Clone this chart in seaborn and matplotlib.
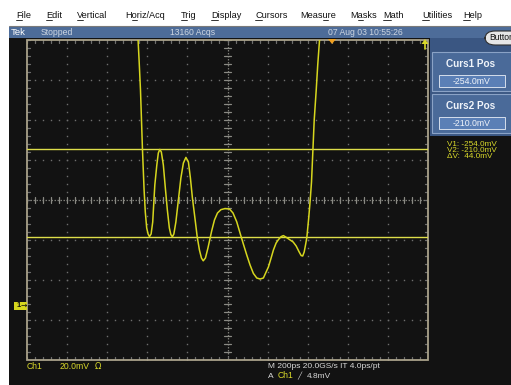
import numpy as np
import pandas as pd
import matplotlib
matplotlib.use("Agg")
import matplotlib.pyplot as plt
from matplotlib.patches import Rectangle, FancyBboxPatch, Polygon
from matplotlib.lines import Line2D
import seaborn as sns

sns.set_theme(style="white")
plt.rcParams['font.family'] = ['Liberation Sans', 'DejaVu Sans']

# ---------------- data ----------------
# Ch1 waveform: time (ps, relative to screen centre) and amplitude (mV)
time_ps = [-450, -446, -441, -434, -429, -424, -416, -410, -403, -396,
           -389, -381, -373, -362.5, -352.5, -345, -337.5, -330, -320, -310,
           -300, -290, -282.5, -275, -267.5, -257.5, -245, -232.5, -220, -207.5,
           -195, -185, -175, -162.5, -151, -140, -130, -121, -110, -97.5,
           -79, -65, -50, -32.5, -12.5, 10, 27.5, 46, 62.5, 79,
           96, 112.5, 129, 146, 162.5, 179, 192.5, 204, 217.5, 229,
           242.5, 254, 267.5, 279, 295, 312.5, 327.5, 342.5, 357.5, 367.5,
           375, 382.5, 390, 396, 405, 412.5, 419, 426, 432.5, 442.5,
           450, 459, 464]
volts_mv = [-145.5, -155.5, -165.5, -180.5, -195.5, -210.5, -230.5, -241.5, -249.5, -252.5,
            -253.8, -252.5, -246.5, -228.0, -218.0, -212.0, -210.2, -211.5, -218.0, -229.5,
            -240.5, -249.5, -252.8, -253.9, -252.5, -246.5, -235.5, -224.5, -217.0, -214.2,
            -216.5, -224.5, -234.5, -244.5, -254.0, -260.5, -264.5, -265.9, -264.5, -259.5,
            -251.0, -245.5, -242.0, -240.3, -239.8, -240.0, -242.0, -246.4, -252.0, -257.5,
            -263.0, -268.0, -272.2, -274.5, -275.0, -274.5, -271.5, -269.0, -264.5, -260.5,
            -257.0, -255.3, -253.8, -253.3, -254.3, -255.5, -256.5, -258.5, -261.5, -263.3,
            -263.5, -261.5, -257.5, -254.0, -244.5, -235.5, -226.5, -210.5, -195.5, -180.5,
            -168.0, -155.5, -145.5]

# cursor readouts (mV)
curs1_mv = -254.0
curs2_mv = -210.0
delta_mv = curs2_mv - curs1_mv

# acquisition settings
time_per_div_ps = 200
volts_per_div_mv = 20
screen_centre_mv = -235.5
sample_rate = "20.0GS/s"
trigger_level_mv = 4.8
acq_count = 13160

menu_items = ["File", "Edit", "Vertical", "Horiz/Acq", "Trig", "Display",
              "Cursors", "Measure", "Masks", "Math", "Utilities", "Help"]
menu_hotkey = [0, 0, 0, 1, 0, 0, 0, 4, 1, 0, 0, 0]

# ---------------- layout helpers ----------------
W, H = 511, 385
fig = plt.figure(figsize=(W / 100, H / 100), dpi=100)
fig.patch.set_facecolor("white")


def fx(x):
    return x / W


def fy(y):
    return 1 - y / H


def box(x0, y0, x1, y1, fc, ec="none", lw=0.0, z=0):
    r = Rectangle((fx(x0), fy(y1)), (x1 - x0) / W, (y1 - y0) / H,
                  transform=fig.transFigure, facecolor=fc, edgecolor=ec,
                  linewidth=lw, zorder=z)
    fig.add_artist(r)
    return r


def ftext(x, y, s, **kw):
    kw.setdefault("va", "center")
    kw.setdefault("ha", "left")
    return fig.text(fx(x), fy(y), s, **kw)


# window background pieces
box(9, 38, W, H, "#121212")                 # scope display
box(9, 27, W, 38, "#4d6c99")                 # status bar
box(430, 38, W, 136, "#3a5682")              # side panel
fig.add_artist(Line2D([fx(9), fx(W)], [fy(26), fy(26)], transform=fig.transFigure,
                      color="#7a7a7a", lw=0.8))

# menu bar
menu_x = [16, 46, 77, 125, 181, 211, 255, 300, 350, 383, 422, 463]
menu_texts = []
for name, x in zip(menu_items, menu_x):
    menu_texts.append(ftext(x, 16, name, fontsize=6.6, color="#101010"))

# status bar
ftext(11, 32.5, "Tek", fontsize=6.8, color="white")
ftext(41, 32.5, "Stopped", fontsize=6.2, color="#cdd6e2")
ftext(170, 32.5, f"{acq_count} Acqs", fontsize=6.2, color="#cdd6e2")
ftext(328, 32.5, "07 Aug 03 10:55:26", fontsize=6.2, color="#cdd6e2")

# button at top right
fig.add_artist(FancyBboxPatch((fx(485), fy(45)), 40 / W, 14 / H,
                              boxstyle="round,pad=0,rounding_size=0.02",
                              transform=fig.transFigure, facecolor="#e6e6e6",
                              edgecolor="#303030", lw=0.8, zorder=2))
ftext(489, 38, "Button", fontsize=6.2, color="#101010", zorder=3)

# cursor readout panel
for top, title, val in [(52, "Curs1 Pos", curs1_mv), (94, "Curs2 Pos", curs2_mv)]:
    box(432, top, W + 2, top + 39, "#4a6a99", ec="#8aa2c6", lw=0.8, z=1)
    box(439, top + 23, 505, top + 35, "#5a7fb6", ec="#d5deec", lw=0.7, z=2)
    ftext(471, top + 12, title, fontsize=7.2, fontweight="bold", color="#f0f4fa",
          ha="center", zorder=3)
    ftext(472, top + 29, f"{val:.1f}mV", fontsize=6.3, color="#f0f4fa",
          ha="center", zorder=3)

yel = "#d9d92a"
ftext(447, 144, f"V1: {curs1_mv:.1f}mV", fontsize=5.9, color=yel)
ftext(447, 150.5, f"V2: {curs2_mv:.1f}mV", fontsize=5.9, color=yel)
ftext(447, 157, f"ΔV:  {delta_mv:.1f}mV", fontsize=5.9, color=yel)

# bottom readouts
ftext(27, 366.5, "Ch1", fontsize=6.2, color=yel)
ftext(60, 366.5, f"{volts_per_div_mv:.1f}mV", fontsize=6.2, color=yel)
ftext(95, 366.5, "Ω", fontsize=6.0, color=yel, family="DejaVu Sans")
ftext(268, 366.5, f"M {time_per_div_ps}ps {sample_rate} IT 4.0ps/pt",
      fontsize=6.0, color="#d8d8d8")
ftext(268, 376, "A", fontsize=6.0, color="#d8d8d8")
ftext(278, 376, "Ch1", fontsize=6.2, color=yel)
ftext(297, 376, "╱", fontsize=5.0, color="#d8d8d8", family="DejaVu Sans")
ftext(307, 376, f"{trigger_level_mv:.1f}mV", fontsize=6.0, color="#d8d8d8")

# ---------------- graticule + trace ----------------
x0, x1 = -5 * time_per_div_ps, 5 * time_per_div_ps
y0 = screen_centre_mv - 4 * volts_per_div_mv
y1 = screen_centre_mv + 4 * volts_per_div_mv

ax = fig.add_axes([fx(27), fy(360), 401 / W, 320 / H])
ax.set_xlim(x0, x1)
ax.set_ylim(y0, y1)
ax.set_facecolor("none")
for s in ax.spines.values():
    s.set_visible(False)
ax.set_xticks([])
ax.set_yticks([])

grid_c = "#6e6e6e"
frame_c = "#a9a28a"
dx_minor = time_per_div_ps / 5
dy_minor = volts_per_div_mv / 5
xs_minor = np.arange(x0, x1 + 1e-6, dx_minor)
ys_minor = np.arange(y0, y1 + 1e-6, dy_minor)
xs_major = np.arange(x0 + time_per_div_ps, x1 - 1, time_per_div_ps)
ys_major = np.arange(y0 + volts_per_div_mv, y1 - 1, volts_per_div_mv)

# dotted division lines
for xv in xs_major:
    if abs(xv) < 1e-6:
        continue
    ax.plot(np.full_like(ys_minor, xv), ys_minor, ls="none", marker="s",
            ms=1.0, mew=0, color=grid_c, zorder=1)
for yv in ys_major:
    if abs(yv - screen_centre_mv) < 1e-6:
        continue
    ax.plot(xs_minor, np.full_like(xs_minor, yv), ls="none", marker="s",
            ms=1.0, mew=0, color=grid_c, zorder=1)

# centre cross with minor ticks
ax.plot([0, 0], [y0, y1], color="#7c7c76", lw=0.9, ls=(0, (1.2, 1.2)), zorder=1)
ax.plot([x0, x1], [screen_centre_mv] * 2, color="#7c7c76", lw=0.9,
        ls=(0, (1.2, 1.2)), zorder=1)
px_t = time_per_div_ps / 40      # ps per pixel
px_v = volts_per_div_mv / 40     # mV per pixel
for yv in ys_minor:
    ax.plot([-3 * px_t, 3 * px_t], [yv, yv], color="#8a8a84", lw=0.9, zorder=1)
for xv in xs_minor:
    ax.plot([xv, xv], [screen_centre_mv - 3 * px_v, screen_centre_mv + 3 * px_v],
            color="#8a8a84", lw=0.9, zorder=1)

# frame ticks
for xv in xs_minor:
    ax.plot([xv, xv], [y1, y1 - 3 * px_v], color=grid_c, lw=0.9, zorder=1)
    ax.plot([xv, xv], [y0, y0 + 3 * px_v], color=grid_c, lw=0.9, zorder=1)
for yv in ys_minor:
    ax.plot([x0, x0 + 3 * px_t], [yv, yv], color=grid_c, lw=0.9, zorder=1)
    ax.plot([x1, x1 - 3 * px_t], [yv, yv], color=grid_c, lw=0.9, zorder=1)

ax.add_patch(Rectangle((0, 0), 1, 1, transform=ax.transAxes, fill=False,
                       edgecolor=frame_c, lw=1.3, zorder=2, clip_on=False))

# cursors
for cv in (curs1_mv, curs2_mv):
    ax.axhline(cv, color="#dede4a", lw=1.0, zorder=3)

# waveform
wave = pd.DataFrame({"t": time_ps, "v": volts_mv})
sns.lineplot(data=wave, x="t", y="v", ax=ax, color="#d6d61e", lw=1.1,
             estimator=None, sort=False, zorder=4)
ax.set_xlabel("")
ax.set_ylabel("")
ax.set_xlim(x0, x1)
ax.set_ylim(y0, y1)

# markers around the graticule
fig.add_artist(Polygon([[fx(328), fy(39)], [fx(336), fy(39)], [fx(332), fy(44)]],
                       closed=True, transform=fig.transFigure,
                       facecolor="#f0a020", edgecolor="none", zorder=5))
fig.add_artist(Polygon([[fx(421.5), fy(44)], [fx(428.5), fy(44)], [fx(425), fy(39)]],
                       closed=True, transform=fig.transFigure,
                       facecolor=yel, edgecolor="none", zorder=5))
fig.add_artist(Line2D([fx(425), fx(425)], [fy(44), fy(49)], transform=fig.transFigure,
                      color=yel, lw=1.2, zorder=5))
box(14, 301.5, 27, 309.5, "#d6d61e", z=5)
ftext(17, 305.5, "1", fontsize=5.5, color="#101010", zorder=6, fontweight="bold")
ftext(21, 305.5, "→", fontsize=5.5, color="#101010", zorder=6, family="DejaVu Sans")

# menu hotkey underlines
fig.canvas.draw()
rend = fig.canvas.get_renderer()
for t, idx in zip(menu_texts, menu_hotkey):
    name = t.get_text()
    ext_full = t.get_window_extent(rend)
    tmp_a = fig.text(0, 0, name[:idx], fontsize=6.6)
    tmp_b = fig.text(0, 0, name[:idx + 1], fontsize=6.6)
    wa = tmp_a.get_window_extent(rend).width if idx > 0 else 0
    wb = tmp_b.get_window_extent(rend).width
    tmp_a.remove()
    tmp_b.remove()
    xa = ext_full.x0 + wa
    xb = ext_full.x0 + wb
    yb = ext_full.y0 + 0.5
    fig.add_artist(Line2D([xa / W, xb / W], [yb / H, yb / H],
                          transform=fig.transFigure, color="#101010", lw=0.6))

fig.savefig("out.png", dpi=100, facecolor=fig.get_facecolor())
